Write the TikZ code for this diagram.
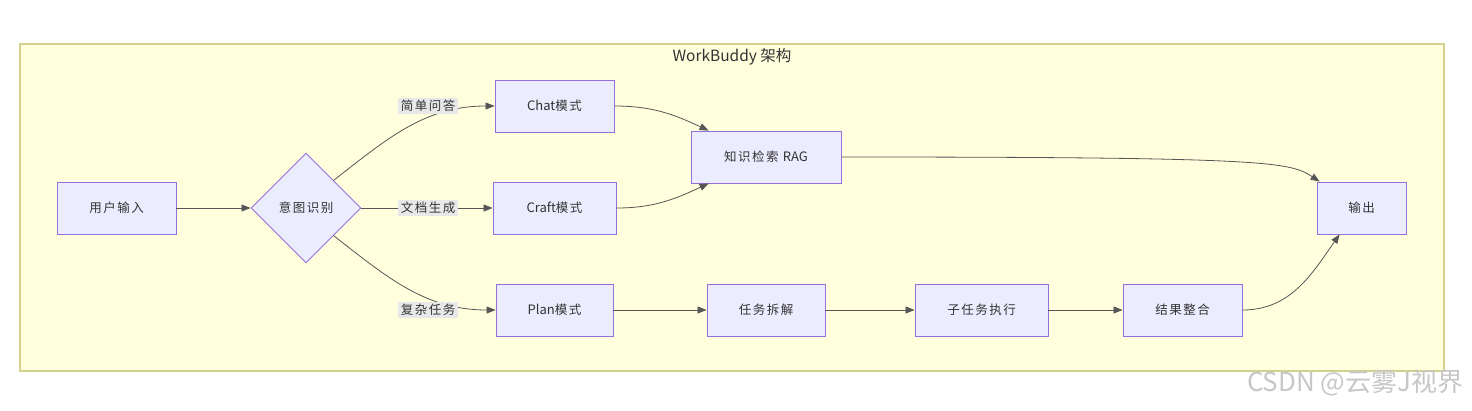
\documentclass[tikz,border=0pt]{standalone}
\usepackage{fontspec}
\setmainfont{Noto Sans CJK SC}
\newfontfamily\widecjk{Noto Sans CJK SC}[LetterSpace=12]
\usetikzlibrary{arrows.meta,positioning,shapes.geometric}
\definecolor{clusterfill}{HTML}{FFFFDE}
\definecolor{clusterline}{HTML}{D2D28E}
\definecolor{nodefill}{HTML}{ECECFF}
\definecolor{nodeline}{HTML}{9370DB}
\definecolor{edgeline}{HTML}{555555}
\definecolor{lblbg}{HTML}{E8E8E8}
\definecolor{ink}{HTML}{333333}
\newcommand{\latin}[1]{{\normalfont\fontsize{13}{14}\selectfont #1}}

\begin{document}
\begin{tikzpicture}[x=1pt,y=1pt,
  box/.style={draw=nodeline,fill=nodefill,line width=0.9pt,minimum height=52pt,inner sep=0pt,text=ink,font=\widecjk\fontsize{12.5}{14}\selectfont},
  choice/.style={box,diamond,aspect=1,minimum width=110pt,minimum height=110pt},
  lbl/.style={fill=lblbg,inner sep=2.5pt,text=ink,font=\widecjk\fontsize{12.5}{14}\selectfont},
  flow/.style={draw=edgeline,line width=0.8pt,-{Triangle[length=9pt,width=7pt]}}]
\useasboundingbox (0,0) rectangle (1472,-410);
\draw[fill=clusterfill,draw=clusterline,line width=1.2pt] (20,-44) rectangle (1444,-371);
\node[text=ink,font=\fontsize{15.5}{18}\selectfont] (title) at (732,-57) {WorkBuddy 架构};

\node[box,minimum width=119pt] (input) at (116.5,-208) {用户输入};
\node[choice] (intent) at (306,-208) {意图识别};
\node[box,minimum width=119pt] (chat) at (554.5,-106) {\latin{Chat}模式};
\node[box,minimum width=123pt] (craft) at (554.5,-208) {\latin{Craft}模式};
\node[box,minimum width=117pt] (plan) at (554.5,-310) {\latin{Plan}模式};
\node[box,minimum width=150pt] (rag) at (766,-157) {知识检索 \latin{RAG}};
\node[box,minimum width=118pt] (split) at (766,-310) {任务拆解};
\node[box,minimum width=133pt] (subtask) at (981.5,-310) {子任务执行};
\node[box,minimum width=119pt] (merge) at (1182.5,-310) {结果整合};
\node[box,minimum width=89pt] (output) at (1361.5,-208) {输出};

\draw[flow] (input) -- (intent);
\draw[flow] (intent.north east) to[out=38,in=180] (chat.west);
\draw[flow] (intent.east) -- (craft.west);
\draw[flow] (intent.south east) to[out=-38,in=180] (plan.west);
\draw[flow] (chat.east) to[out=0,in=155] ([xshift=18pt]rag.north west);
\draw[flow] (craft.east) to[out=0,in=205] ([xshift=18pt]rag.south west);
\draw[flow] (rag.east) .. controls (1270,-157) and (1290,-162) .. ([xshift=3pt]output.north west);
\foreach \a/\b in {plan/split,split/subtask,subtask/merge}{
  \draw[flow] (\a) -- (\b);
}
\draw[flow] (merge.east) to[out=0,in=235] ([xshift=23pt]output.south west);

\node[lbl] (qa) at (428,-106) {简单问答};
\node[lbl] (doc) at (428,-208) {文档生成};
\node[lbl] (complex) at (428,-310) {复杂任务};

\node[text=black!22,font=\fontsize{26}{28}\selectfont,anchor=east] (mark) at (1467,-383) {CSDN @云雾J视界};
\end{tikzpicture}
\end{document}
